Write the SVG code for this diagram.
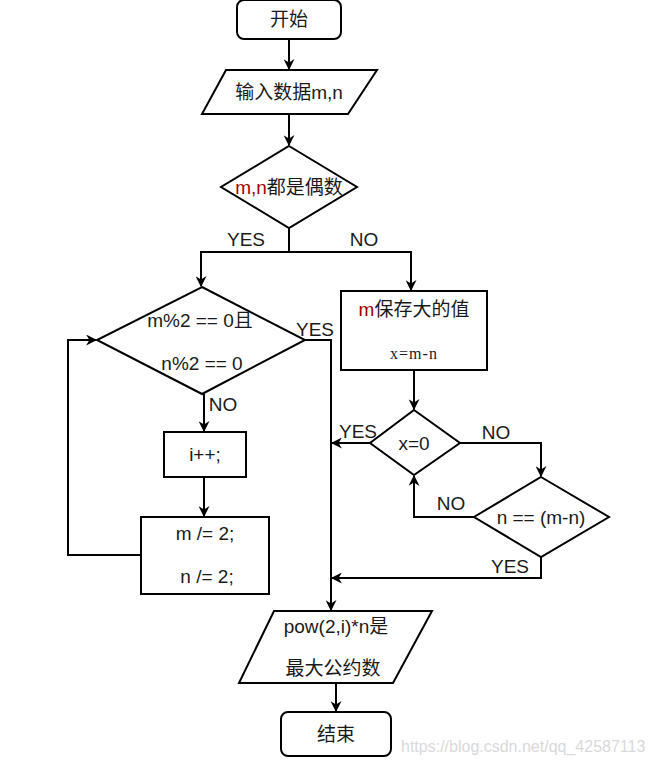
<svg xmlns="http://www.w3.org/2000/svg" width="653" height="764" viewBox="0 0 653 764">
<style>
.s{fill:#fff;stroke:#000;stroke-width:2}
.c{fill:none;stroke:#000;stroke-width:2}
text{font-family:"Liberation Sans","Noto Sans CJK SC",sans-serif;font-size:19px;fill:#1a1a1a;text-anchor:middle;dominant-baseline:central}
.r{fill:#a00000}
.serif{font-family:"Liberation Serif","Noto Sans CJK SC",serif;font-size:16px;letter-spacing:1px}
.wm{fill:#d9d9d9;font-size:16px;text-anchor:start}
</style>
<defs>
<marker id="a" viewBox="0 0 10 10" refX="9" refY="5" markerWidth="11" markerHeight="11" markerUnits="userSpaceOnUse" orient="auto">
<path d="M0,0 L10,5 L0,10 L3,5 z" fill="#000"/>
</marker>
</defs>
<rect width="653" height="764" fill="#fff"/>
<g id="connectors">
<path class="c" d="M289,39 V69" marker-end="url(#a)"/>
<path class="c" d="M289,114 V145" marker-end="url(#a)"/>
<path class="c" d="M289,228 V252 H201 V286" marker-end="url(#a)"/>
<path class="c" d="M289,252 H411 V290" marker-end="url(#a)"/>
<path class="c" d="M204,394 V431" marker-end="url(#a)"/>
<path class="c" d="M204,477 V516" marker-end="url(#a)"/>
<path class="c" d="M141,555 H68 V340 H96" marker-end="url(#a)"/>
<path class="c" d="M305,340 H331 V610" marker-end="url(#a)"/>
<path class="c" d="M414,370 V409" marker-end="url(#a)"/>
<path class="c" d="M370,443 H332" marker-end="url(#a)"/>
<path class="c" d="M460,443 H541 V476" marker-end="url(#a)"/>
<path class="c" d="M474,517 H414 V476" marker-end="url(#a)"/>
<path class="c" d="M541,557 V578 H332" marker-end="url(#a)"/>
<path class="c" d="M336,683 V711" marker-end="url(#a)"/>
<text x="246" y="239">YES</text>
<text x="364" y="239">NO</text>
<text x="315" y="329">YES</text>
<text x="223" y="404">NO</text>
<text x="358" y="431">YES</text>
<text x="496" y="432">NO</text>
<text x="451" y="503">NO</text>
<text x="510" y="566">YES</text>
</g>
<g id="start">
<rect class="s" x="237" y="0" width="104" height="39" rx="7"/>
<text x="289" y="19">开始</text>
</g>
<g id="input">
<polygon class="s" points="226,70 377,70 348,114 202,114"/>
<text x="289" y="92">输入数据m,n</text>
</g>
<g id="d1">
<polygon class="s" points="289,146 357,187 289,228 221,187"/>
<text x="289" y="187"><tspan class="r">m,n</tspan>都是偶数</text>
</g>
<g id="d2">
<polygon class="s" points="202,287 305,340 202,394 97,340"/>
<text x="200" y="320">m%2 == 0且</text>
<text x="202" y="363">n%2 == 0</text>
</g>
<g id="inc">
<rect class="s" x="164" y="432" width="82" height="45"/>
<text x="205" y="454">i++;</text>
</g>
<g id="div">
<rect class="s" x="141" y="517" width="128" height="77"/>
<text x="205" y="533">m /= 2;</text>
<text x="207" y="576">n /= 2;</text>
</g>
<g id="box">
<rect class="s" x="341" y="291" width="146" height="79"/>
<text x="414" y="309"><tspan class="r">m</tspan>保存大的值</text>
<text class="serif" x="414" y="353">x=m-n</text>
</g>
<g id="d3">
<polygon class="s" points="414,410 460,443 414,475 370,443"/>
<text x="414" y="443">x=0</text>
</g>
<g id="d4">
<polygon class="s" points="541,477 609,517 541,557 474,517"/>
<text x="541" y="517">n == (m-n)</text>
</g>
<g id="output">
<polygon class="s" points="274,611 432,611 393,683 239,683"/>
<text x="336" y="626">pow(2,i)*n是</text>
<text x="333" y="668">最大公约数</text>
</g>
<g id="end">
<rect class="s" x="281" y="712" width="110" height="44" rx="7"/>
<text x="336" y="734">结束</text>
</g>
<text class="wm" x="401" y="746">https://blog.csdn.net/qq_42587113</text>
</svg>
